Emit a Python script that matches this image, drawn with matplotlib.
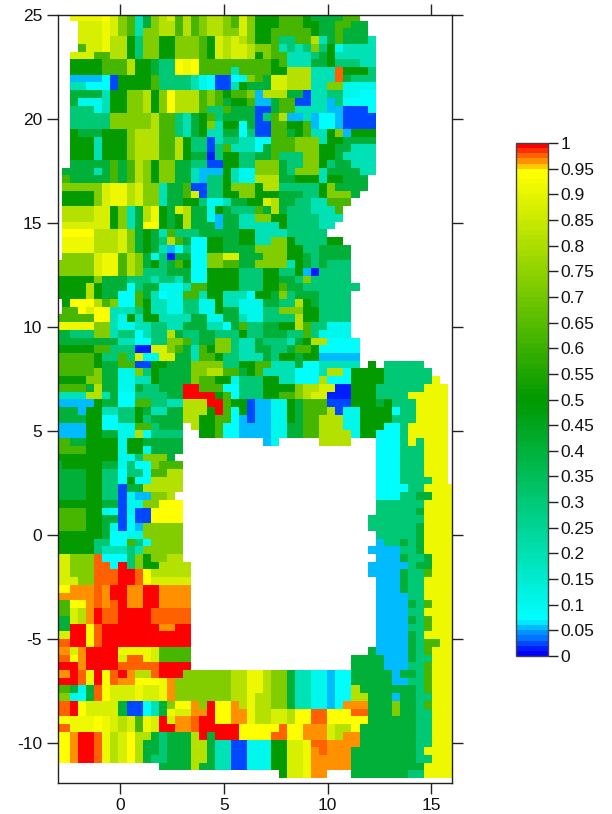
"""Gridded map with a stepped rainbow colour scale."""

import matplotlib

matplotlib.use("Agg")
import matplotlib.pyplot as plt
import numpy as np
from matplotlib.colors import LinearSegmentedColormap, ListedColormap


# one letter per cell, top row first, '.' is an empty cell
CELL_VALUES = {
    "n": 0.015, "b": 0.025, "s": 0.055, "q": 0.075, "c": 0.10, "a": 0.195,
    "t": 0.30, "e": 0.40, "d": 0.50, "h": 0.62, "g": 0.725, "m": 0.81,
    "k": 0.87, "l": 0.91, "y": 0.945, "p": 0.965, "o": 0.975, "r": 0.995,
}

ROWS = [
    "..llllykgh aegmkhmhgm mghkgdddhh hdeeeehh.. ..........",
    "...kkklkgh aegmmhmhgm mghkgdddhh hddeehhee. ..........",
    "...kkklkgh aggmmhmhgm mggkgddhhh hhdeeheee. ..........",
    "...kkklmmd tggddggghd kmkmgddhtt hhmaeheeea ..........",
    "...hkklmmd tggddggghd kmkkmgghat atgtdcaaaa ..........",
    "..kkkhhmmd tggddggghd kmkkmdghha aatedaaaaa ..........",
    "..ddddhhhm ddettylyhh hhhhhhhdha aaeedtttaa ..........",
    "..ddddhhhm ddettylyhh hhahhhhddm mmaaaodddt ..........",
    "..ssssqbdd ddhttttacq bbqcghekkm mmaaaoettt ..........",
    "..aaqqqbdd ddhttttacq bbadeeekkm mmaaggcccc ..........",
    "..eeeeaddg gmdgymmmhg hdhhgsmmme ebaattccqq ..........",
    "..ecccaddg gmdgymmmhg heddhssehh bbaastqqqq ..........",
    "..tttcaddg gmdgymmmht theeebbehh aaaassbbbq ..........",
    "..tttttggg ggmhhtaedh teeeebthms sasqqsbbbb ..........",
    "..tttttggg ggmhhtaedg addqebbhhd dhsqqsbbbb ..........",
    "..deeedddg mmmhhtaeda aeeqtbbhhe dhaadgsddd ..........",
    "..dddadddg mmmhhmdttb attaaqqhhh gggaddeeee ..........",
    "..dddadddg mmmhhmdttb thaaaqehhh gggddeeaaa ..........",
    "..dddadddg mmmhhmdeen tddtteehtt tggddeaaaa ..........",
    "..eeeeeheh mgdggeettb bddttggget tggdteeaaa ..........",
    ".eeeeaeheh mgdggeeass sdaccggget gggaeeeeaa ..........",
    ".heeeeeheh mgdggeeast tdaccmmmee dddaddeee. ..........",
    ".gggggkllm kggaeehbbt tdgggdmmtt tttdgeeee. ..........",
    ".ddddgkllm kggaeehkbt tddggdddee ettdggge.. ..........",
    ".ddddgkllm kggaeeddtc caeeddkmee ttaahhh... ..........",
    ".mmmmkkdga emldekmeec dettthemet ttaaah.... ..........",
    ".mmmmkkdga emldedmeec seeaaggddt tttaaa.... ..........",
    ".kkkkkkdga eyydedmeee seeaaaaadt tttaa..... ..........",
    ".yyyymmmkg edeahtttee eeeddaaaat tttt...... ..........",
    ".llllmmmkg edetmheqqd deeddaaggd ttttdd.... ..........",
    ".llllmmmkg edeasqtqqd deeeeggggd dtteeee... ..........",
    ".ggggkllhm gectneeqqg gkkeeegggd deteeee... ..........",
    "gggggkllhm gedtehdqqg ghheegggga detettt... ..........",
    "gggggkllhm gttteeeqqd dddtttddtt dsntttt... ..........",
    "dddddgeeet ttattaeqqd dddtttddee tgttttt... ..........",
    "ddddmdeeeq teecccahhd dddtttddhe ettttttt.. ..........",
    "ddddmdeeqq heaqcchhad daaaqddegt eeetttt... ..........",
    ".dyyymhgqq hdaaccttcc daaccceett mdetttt... ..........",
    ".hhykyyaaa tdaaccttcc deecccttgg gddtttt... ..........",
    "hhhhhyyacd addaaaaeec ceeacctttt mddtttt... ..........",
    "lllllggacc aattaaeeea aqehtteedd mhttccc... ..........",
    "eetttggatt qattmettee tttdtteeet thtcccc... ..........",
    "eeeeeeeeaa qqttgghtee ggtaaettta edmmqqqq.. ..........",
    "dddddhhttt nnkkgheahd ggtaaeette hhdqqqqq.. ..........",
    "hhhhhdttht kcckkeeahh dttaaaetdd eddsssss.. ..........",
    "hhhhhdeehh bbddeeeggg gttddhhaaa eqqaaaaa.d .ttttt....",
    "hhhhhgeecc gtdeeeeggm mhhedhaaaa qqqammqddd dtttttt...",
    "ddddggeecc aadeeeeghh ddctttddaa qqqmqqqddd dttttttl..",
    "hhhhemeecc etteeerrhh hqqtttdddd gmmkknnddd ttttttlll.",
    "aaaammaeqq tttteerrrr dhqtttddhh gmkknnnddd ttttlllll.",
    "sssssdeeqq hhttaammmr rhddbssccd ehhhbbbddd edtttllll.",
    "eeesddaatt deaaeemmmd rhqdbssccd ehhhmbccdd ddqttllll.",
    "eeeeddqqtt dteeeemmdd hhqsbssccd ehhmmmccdd ddtttllll.",
    "ssssddqqcc hhteee.mdd hqqsssscce ehhmmmccdd dqqtlllll.",
    "ssssddeecc mqtttt..dd hqqsssscce ehhmmmmcdd qqqtlllll.",
    "hheeddddcd deeeee.... ......sc.. ...mmmm... qqqtltlll.",
    "hhhhddddcd dceeee.... .......... .......... qqqtttlll.",
    "ddddddddcc tggge..... .......... .......... qqqtttlll.",
    "edddddeect qqghhh.... .......... .......... qqqtttlll.",
    "eeeeddttqt tqhhmm.... .......... .......... qqqtttlll.",
    "eeeeddttqd qqmmmm.... .......... .......... qqqttttll.",
    "eeeeddttbe emmmmm.... .......... .......... qqqqttllll",
    "eeeeddttbc ssggm..... .......... .......... qqqtteelll",
    "ddddddeebc cggyyy.... .......... .......... ttttttllll",
    "hhhhddcqbc bbyyyy.... .......... .......... tttttellll",
    "hhhhddeebq bbyyyy.... .......... .........t ttttttllll",
    "hhhhddecbq sggggg.... .......... .........t tttttellll",
    "ddddddeqqc cggggg.... .......... .......... tttttellll",
    "dddddttqqh tqgggg.... .......... .......... sttetellll",
    "dddddtaaat aggggg.... .......... .........s sssttellll",
    "kkgggoqqqt gdggmm.... .......... .......... sssettelll",
    "kkgggooqrt gddmmmm... .......... .........s ssssteelll",
    "kkgggooorr oymmmmm... .......... .........s sssetthlll",
    "kkkggooorr oykkkkk... .......... .......... sssettllll",
    "yypppoprrp prrpppp... .......... .......... sssettllll",
    "pppppoprrp prrpppp... .......... .......... ssssttllll",
    "hhyypoporp prrpppp... .......... .......... ssssethlll",
    "hhkmproorr rrooooo... .......... .......... ssssttllll",
    "eekmproorr rrooooo... .......... .......... ssssethlll",
    "eerryorrrr rrrpprr... .......... .......... sssstthlll",
    "kkrryorrrr rrrrrrr... .......... .......... ssssetllll",
    "oorryorrrr rrrrrrr... .......... .......... ssssethhll",
    "ppkprrrrll llkhhhh... .......... .........e ssssethlll",
    "ooyprrrrko olkhhhh... .......... .......eee esssettlll",
    "rrrprrrroo ooorrrr... .......... .......eee essstthlll",
    "pprolryorp mmorrrgggg ggmmllmgge aaccsqqeee eeseethlll",
    "rrrolryopp yyylpggggg ggmmllmgge aaccsqqeee eesstthlll",
    "hheceoykkk lkklpggggg ggmmllmgge aaccsqqmee eeeeethlll",
    "ggcqeoykkk lkklpggggg ggmmlmmgge aaccsqqmme eeseettlll",
    "oorykkkkeb bqaegyypgr yypmlmmgge aaccsqpppe eegeethlll",
    "oorykkkkeb bqaelkkppr yypplmmkkm yyooyyyooe eegeettlll",
    "yylllylkmk hlkrkpporr yypplmmkkm yyooyyyyye eeeeettlll",
    "oolllylkmk hlkrrpporr rrryyyyyoy ypppkmmyee eeeeettlll",
    "yyprrolmky mmeteeemre rrryyyyooy ypppkmppee eeeeettlll",
    "yyprrolmky meeteeemme aabbcccddk kloopppp ee eeeeettlll",
    "yyprrolmky meeteeemme aabbcccddk klpopppeee eeeeetllll",
    "yyprrolmky metteeemme aabbcccddk klpppppeee eeeeettlll",
    ".......... ...eeeemee aabbcccddk klpppppeee eeeeeellll",
    ".......... .......... ........dk klpp...eee eeeettllll",
]

X_TICKS = [0, 5, 10, 15]
Y_TICKS = [-10, -5, 0, 5, 10, 15, 20, 25]
BAR_TICKS = [i / 20 for i in range(21)]


def _scale():
    lower = LinearSegmentedColormap.from_list(
        "rainbow_steps",
        [(0.0, "#0000ff"), (6.5 / 94, "#00ffff"), (0.5 / 0.95, "#009900"), (1.0, "#ffff00")],
    )
    colours = [lower(i / 94) for i in range(95)]
    colours += ["#ffc800", "#ff9000", "#ff6000", "#ff3000", "#ff0000"]
    return ListedColormap(colours)


def _grid():
    rows = []
    for row in ROWS:
        cells = row.replace(" ", "").ljust(50, ".")[:50]
        rows.append([CELL_VALUES.get(cell, np.nan) for cell in cells])
    return np.ma.masked_invalid(np.array(rows))


plt.rcParams["font.family"] = ["Liberation Sans", "DejaVu Sans"]
plt.rcParams["axes.unicode_minus"] = False

fig = plt.figure(figsize=(6.12, 8.14), dpi=100)
ax = fig.add_axes([57.5 / 612, 1 - 783 / 814, 394.5 / 612, 768 / 814])
grid = _grid()
x_edges = -3.2 + 0.388 * np.arange(grid.shape[1] + 1)
y_edges = 25.1 - 0.3716 * np.arange(grid.shape[0] + 1)
mesh = ax.pcolormesh(x_edges, y_edges, grid, cmap=_scale(), vmin=0, vmax=1)
ax.set_xlim(-3.04, 16.01)
ax.set_ylim(-11.92, 25)
ax.set_xticks(X_TICKS)
ax.set_yticks(Y_TICKS)
ax.tick_params(
    top=True, right=True, length=8, width=1, labelsize=12.5,
    color="#222222", labelcolor="#111111", pad=3,
)
for spine in ax.spines.values():
    spine.set_linewidth(1)
    spine.set_color("#222222")
    spine.set_zorder(5)

cax = fig.add_axes([516 / 612, 1 - 656 / 814, 32 / 612, 513 / 814])
bar = fig.colorbar(mesh, cax=cax)
bar.set_ticks(BAR_TICKS)
bar.set_ticklabels([f"{tick:g}" for tick in BAR_TICKS])
bar.ax.tick_params(length=7, width=1, labelsize=12.5, color="#222222", labelcolor="#111111", pad=2)
bar.outline.set_linewidth(1)
bar.outline.set_edgecolor("#444444")

fig.savefig("out.png", dpi=100)
plt.close(fig)
